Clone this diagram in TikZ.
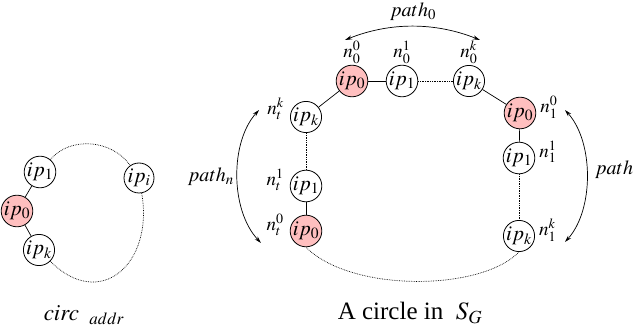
\documentclass[tikz,border=0pt]{standalone}
\usepackage{mathptmx}
\usepackage[no-math]{fontspec}
\setmainfont{Liberation Serif}
\usepackage{xcolor}
\usepackage{tikz}
\usetikzlibrary{arrows.meta,positioning,calc}
\definecolor{ippink}{HTML}{FFBFBF}

\begin{document}
\begin{tikzpicture}[x=1pt,y=1pt,
    ipnode/.style={circle,draw,line width=0.8pt,minimum size=30pt,inner sep=0pt,font=\fontsize{21}{23}\selectfont},
    iphead/.style={ipnode,fill=ippink},
    nlab/.style={font=\fontsize{19}{21}\selectfont,inner sep=1pt},
    lnk/.style={line width=0.7pt},
    dotlnk/.style={densely dotted,line width=0.7pt},
    pth/.style={{Stealth[length=7pt,width=4pt]}-{Stealth[length=7pt,width=4pt]},line width=0.7pt}]
  \useasboundingbox (0,0) rectangle (635,332);

  % left: the address circle
  \node[ipnode] (l1) at (40,160) {$ip_1$};
  \node[iphead] (l0) at (17,121) {$ip_0$};
  \node[ipnode] (lk) at (39,82) {$ip_k$};
  \node[ipnode] (li) at (139,154) {$ip_i$};
  \draw[lnk] (l1) -- (l0);
  \draw[lnk] (l0) -- (lk);
  \draw[dotlnk] (l1) to[out=50,in=125] (li);
  \draw[dotlnk] (li) to[out=-80,in=-45,looseness=1.6] (lk);
  \node[font=\fontsize{23}{25}\selectfont] (capl) at (84,17) {$circ\;\;{}_{addr}$};

  % right: one circle of S_G
  \node[iphead] (a0) at (352,251) {$ip_0$};
  \node[ipnode] (a1) at (402,251) {$ip_1$};
  \node[ipnode] (ak) at (469,251) {$ip_k$};
  \node[iphead] (b0) at (520,219) {$ip_0$};
  \node[ipnode] (b1) at (519,174) {$ip_1$};
  \node[ipnode] (bk) at (519,96) {$ip_k$};
  \node[ipnode] (ck) at (306,215) {$ip_k$};
  \node[ipnode] (c1) at (306,146) {$ip_1$};
  \node[iphead] (c0) at (306,101) {$ip_0$};

  \node[nlab,above=0pt of a0] (na0) {$n_0^0$};
  \node[nlab,above=0pt of a1] (na1) {$n_0^1$};
  \node[nlab,above=0pt of ak] (nak) {$n_0^k$};
  \node[nlab,right=3pt of b0,yshift=6pt] (nb0) {$n_1^0$};
  \node[nlab,right=3pt of b1,yshift=6pt] (nb1) {$n_1^1$};
  \node[nlab,right=3pt of bk,yshift=6pt] (nbk) {$n_1^k$};
  \node[nlab,left=5pt of ck,yshift=8pt] (nck) {$n_t^k$};
  \node[nlab,left=5pt of c1,yshift=6pt] (nc1) {$n_t^1$};
  \node[nlab,left=5pt of c0,yshift=6pt] (nc0) {$n_t^0$};

  \draw[lnk] (a0) -- (a1);
  \draw[dotlnk] (a1) -- (ak);
  \draw[lnk] (ak) -- (b0);
  \draw[lnk] (b0) -- (b1);
  \draw[dotlnk] (b1) -- (bk);
  \draw[dotlnk] (bk.south) .. controls (480,40) and (350,40) .. (c0.south);
  \draw[lnk] (c0) -- (c1);
  \draw[dotlnk] (c1) -- (ck);
  \draw[lnk] (ck) -- (a0);

  % paths between the heads
  \coordinate (p0l) at (345,292);
  \coordinate (p0r) at (480,292);
  \draw[pth] (p0l) .. controls (390,310) and (435,310) .. (p0r);
  \node[nlab,font=\fontsize{20}{22}\selectfont] (lp0) at (413,320) {$path_0$};
  \coordinate (pnt) at (259,222);
  \coordinate (pnb) at (261,89);
  \draw[pth] (pnt) .. controls (230,190) and (230,122) .. (pnb);
  \node[nlab,anchor=east,font=\fontsize{20}{22}\selectfont] (lpn) at (235,155) {$path_n$};
  \coordinate (p1t) at (565,222);
  \coordinate (p1b) at (565,90);
  \draw[pth] (p1t) .. controls (594,190) and (594,122) .. (p1b);
  \node[nlab,anchor=west,font=\fontsize{20}{22}\selectfont] (lp1) at (594,162) {$path$};

  \node[font=\fontsize{25}{27}\selectfont] (capr) at (410,19) {A circle in\ \ $S_G$};
\end{tikzpicture}
\end{document}
